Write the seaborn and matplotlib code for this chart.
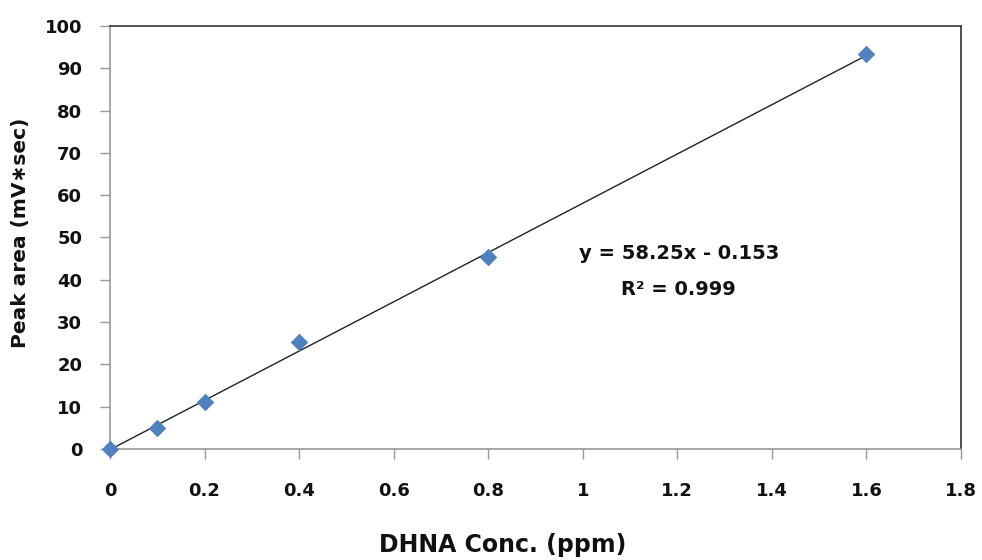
import matplotlib
matplotlib.use("Agg")
import matplotlib.pyplot as plt
import seaborn as sns
import numpy as np
import pandas as pd

# Data
conc = [0, 0.1, 0.2, 0.4, 0.8, 1.6]
area = [0.0, 5.0, 11.2, 25.2, 45.3, 93.3]
slope = 58.25
intercept = -0.153
fit_x = [0, 1.6]
x_ticks = [0, 0.2, 0.4, 0.6, 0.8, 1, 1.2, 1.4, 1.6, 1.8]
x_tick_labels = ["0", "0.2", "0.4", "0.6", "0.8", "1", "1.2", "1.4", "1.6", "1.8"]
y_ticks = [0, 10, 20, 30, 40, 50, 60, 70, 80, 90, 100]

sns.set_theme(style="white")
plt.rcParams['font.family'] = ['DejaVu Sans']
plt.rcParams['font.weight'] = 'bold'
plt.rcParams['axes.labelweight'] = 'bold'

df = pd.DataFrame({"conc": conc, "area": area})
fit_df = pd.DataFrame({"x": fit_x, "y": [slope * v + intercept for v in fit_x]})

fig = plt.figure(figsize=(9.82, 5.6), dpi=100)
ax = fig.add_axes([110/982, 1 - 449/560, (961-110)/982, (449-26)/560])

sns.lineplot(data=fit_df, x="x", y="y", ax=ax, color="#222222", linewidth=1.0)
sns.scatterplot(data=df, x="conc", y="area", ax=ax, marker="D", s=80,
                color="#4F81BD", edgecolor="#4F81BD", linewidth=0, zorder=3,
                clip_on=False)

ax.set_xlim(0, 1.8)
ax.set_ylim(0, 100)
ax.set_xticks(x_ticks)
ax.set_xticklabels(x_tick_labels, fontweight="bold")
ax.set_yticks(y_ticks)
ax.set_yticklabels([str(v) for v in y_ticks], fontweight="bold")

ax.tick_params(axis="both", which="both", direction="out", length=7, width=1,
               color="#999999", labelsize=13, labelcolor="#111111",
               bottom=True, left=True)
ax.tick_params(axis="x", pad=17)
ax.tick_params(axis="y", pad=13)
for side in ["left", "bottom"]:
    ax.spines[side].set_color("#999999")
    ax.spines[side].set_linewidth(1.2)
for side in ["top", "right"]:
    ax.spines[side].set_color("#333333")
    ax.spines[side].set_linewidth(1.2)
    ax.spines[side].set_visible(True)

ax.set_xlabel("DHNA Conc. (ppm)", fontsize=17, fontweight="bold", color="#111111")
ax.xaxis.set_label_coords((503 - 110) / 851, (449 - 545) / 423)
ax.xaxis.label.set_va("center")
ax.set_ylabel("Peak area (mV∗sec)", fontsize=14.5, fontweight="bold", color="#111111")
ax.yaxis.set_label_coords((21 - 110) / 851, (449 - 233) / 423)
ax.yaxis.label.set_va("center")

ax.text(1.203, 46.1, "y = 58.25x - 0.153", fontsize=14, fontweight="bold",
        ha="center", va="center", color="#111111")
ax.text(1.203, 37.8, "R² = 0.999", fontsize=14, fontweight="bold",
        ha="center", va="center", color="#111111")

fig.savefig("out.png", dpi=100)
